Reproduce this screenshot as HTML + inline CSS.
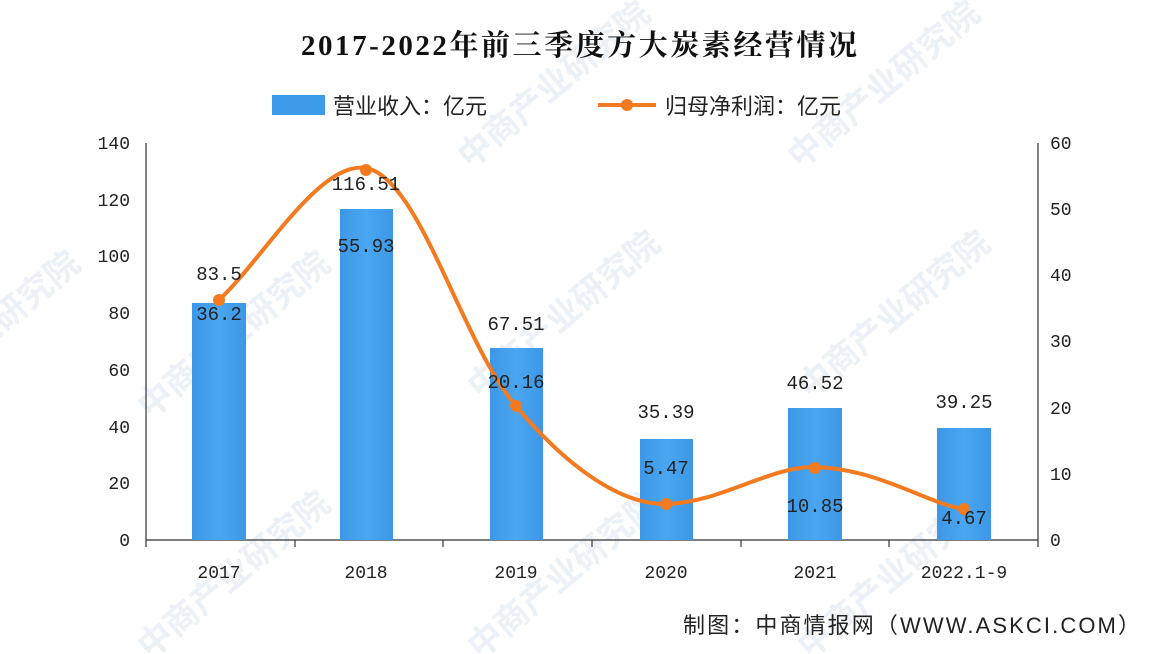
<!DOCTYPE html>
<html><head><meta charset="utf-8"><style>
body{margin:0;background:#fff;}
svg{display:block;}
</style></head><body>
<svg width="1170" height="654" xmlns="http://www.w3.org/2000/svg" font-family="Liberation Sans, Noto Sans CJK SC, sans-serif">
<rect width="1170" height="654" fill="#fff"/>
<defs><linearGradient id="g" x1="0" x2="1"><stop offset="0" stop-color="#3d97e6"/><stop offset="0.5" stop-color="#4aa6f0"/><stop offset="1" stop-color="#3d97e6"/></linearGradient></defs>
<g fill="#e6eef5" font-size="34" font-weight="bold" opacity="0.8">
<text transform="translate(150,420) rotate(-40)">中商产业研究院</text>
<text transform="translate(480,400) rotate(-40)">中商产业研究院</text>
<text transform="translate(810,400) rotate(-40)">中商产业研究院</text>
<text transform="translate(150,660) rotate(-40)">中商产业研究院</text>
<text transform="translate(480,660) rotate(-40)">中商产业研究院</text>
<text transform="translate(810,660) rotate(-40)">中商产业研究院</text>
<text transform="translate(-100,420) rotate(-40)">中商产业研究院</text>
<text transform="translate(470,170) rotate(-40)">中商产业研究院</text>
<text transform="translate(800,170) rotate(-40)">中商产业研究院</text>
</g>
<text x="579" y="55" text-anchor="middle" font-size="29" font-weight="bold" font-family="Liberation Serif, Noto Serif CJK SC, serif" fill="#111" textLength="556">2017-2022年前三季度方大炭素经营情况</text>
<rect x="272" y="95" width="53" height="20" fill="#3d9be9"/>
<text x="333" y="114" font-size="22" fill="#222">营业收入：亿元</text>
<line x1="598" y1="105" x2="656" y2="105" stroke="#f47a20" stroke-width="4"/>
<circle cx="627" cy="105" r="6" fill="#f47a20"/>
<text x="665" y="114" font-size="22" fill="#222">归母净利润：亿元</text>
<g stroke="#333" stroke-width="1.2">
<line x1="146" y1="143" x2="146" y2="540"/>
<line x1="1038" y1="143" x2="1038" y2="540"/>
<line x1="146" y1="540" x2="1038" y2="540"/>
<line x1="146" y1="540" x2="146" y2="547"/><line x1="295" y1="540" x2="295" y2="547"/><line x1="443" y1="540" x2="443" y2="547"/><line x1="592" y1="540" x2="592" y2="547"/><line x1="741" y1="540" x2="741" y2="547"/><line x1="889" y1="540" x2="889" y2="547"/><line x1="1038" y1="540" x2="1038" y2="547"/>
</g>
<g font-size="18" fill="#222" text-anchor="end" font-family="Liberation Mono, monospace">
<text x="130" y="546">0</text><text x="130" y="489">20</text><text x="130" y="433">40</text><text x="130" y="376">60</text><text x="130" y="319">80</text><text x="130" y="262">100</text><text x="130" y="206">120</text><text x="130" y="149">140</text>
</g>
<g font-size="18" fill="#222" font-family="Liberation Mono, monospace">
<text x="1050" y="546">0</text><text x="1050" y="480">10</text><text x="1050" y="414">20</text><text x="1050" y="347">30</text><text x="1050" y="281">40</text><text x="1050" y="215">50</text><text x="1050" y="149">60</text>
</g>
<g font-size="18" fill="#222" text-anchor="middle" font-family="Liberation Mono, monospace">
<text x="219" y="578">2017</text><text x="366" y="578">2018</text><text x="516" y="578">2019</text><text x="666" y="578">2020</text><text x="815" y="578">2021</text><text x="964" y="578">2022.1-9</text>
</g>
<g fill="url(#g)">
<rect x="192" y="303" width="54" height="237"/>
<rect x="340" y="209" width="53" height="331"/>
<rect x="490" y="348" width="53" height="192"/>
<rect x="640" y="439" width="53" height="101"/>
<rect x="788" y="408" width="54" height="132"/>
<rect x="937" y="428" width="54" height="112"/>
</g>
<path d="M219,300 C262,260 320,160 366,168 C420,178 460,340 516,406 C565,465 620,505 666,504 C720,503 770,466 815,467 C880,469 930,505 964,509" fill="none" stroke="#f47a20" stroke-width="4"/>
<g fill="#f47a20"><circle cx="219" cy="300" r="6"/><circle cx="366" cy="170" r="6"/><circle cx="516" cy="406" r="6"/><circle cx="666" cy="504" r="6"/><circle cx="815" cy="468" r="6"/><circle cx="964" cy="509" r="6"/></g>
<g font-size="19" fill="#222" text-anchor="middle" font-family="Liberation Mono, monospace">
<text x="219" y="280">83.5</text><text x="219" y="320">36.2</text>
<text x="366" y="190">116.51</text><text x="366" y="252">55.93</text>
<text x="516" y="330">67.51</text><text x="516" y="388">20.16</text>
<text x="666" y="418">35.39</text><text x="666" y="474">5.47</text>
<text x="815" y="389">46.52</text><text x="815" y="512">10.85</text>
<text x="964" y="408">39.25</text><text x="964" y="524">4.67</text>
</g>
<text x="683" y="633" font-size="22" fill="#222" textLength="457">制图：中商情报网（WWW.ASKCI.COM）</text>
</svg>
</body></html>
